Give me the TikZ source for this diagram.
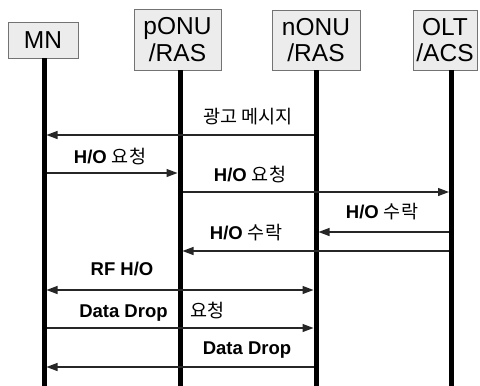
\documentclass[tikz,border=0pt]{standalone}
\usepackage{fontspec}
\setmainfont{Liberation Sans}
\newfontfamily\kr{Noto Sans CJK KR}
\usetikzlibrary{arrows.meta}

\tikzset{
  ent/.style={draw=gray!90!black, fill=gray!15, line width=0.8pt, inner sep=0pt,
    align=center, font=\fontsize{24.5}{26.7}\selectfont},
  life/.style={line width=5pt},
  msg/.style={line width=1.2pt, draw=black!85, -{Triangle[length=11pt,width=8pt]},
    shorten >=2.5pt, shorten <=2.5pt},
  dmsg/.style={msg, {Triangle[length=11pt,width=8pt]}-{Triangle[length=11pt,width=8pt]}},
  lbl/.style={font=\fontsize{18.5}{20}\selectfont\bfseries, inner sep=0pt}
}

\begin{document}
\begin{tikzpicture}[x=1pt,y=-1pt]
  \useasboundingbox (0,0) rectangle (480,386);
  % entities
  \node[ent, minimum width=70pt, minimum height=36pt] (mn) at (43,40) {MN};
  \node[ent, minimum width=87pt, minimum height=61pt] (ponu) at (177.5,39.5) {pONU\\/RAS};
  \node[ent, minimum width=88pt, minimum height=60pt] (nonu) at (316,40) {nONU\\/RAS};
  \node[ent, minimum width=64pt, minimum height=60pt] (olt) at (445,40) {OLT\\/ACS};
  % lifelines
  \coordinate (mnb) at (44,386);
  \coordinate (ponub) at (180,386);
  \coordinate (nonub) at (316,386);
  \coordinate (oltb) at (451.5,386);
  \draw[life] (mnb |- mn.south) -- (mnb);
  \draw[life] (ponub |- ponu.south) -- (ponub);
  \draw[life] (nonub |- nonu.south) -- (nonub);
  \draw[life] (oltb |- olt.south) -- (oltb);
  % messages
  \draw[msg] (nonub |- 0,135) -- (mnb |- 0,135);
  \draw[msg] (mnb |- 0,173) -- (ponub |- 0,173);
  \draw[msg] (ponub |- 0,192) -- (oltb |- 0,192);
  \draw[msg] (oltb |- 0,232) -- (nonub |- 0,232);
  \draw[msg] (oltb |- 0,251) -- (ponub |- 0,251);
  \draw[dmsg] (mnb |- 0,290) -- (nonub |- 0,290);
  \draw[msg] (mnb |- 0,328) -- (nonub |- 0,328);
  \draw[msg] (nonub |- 0,367) -- (mnb |- 0,367);
  % labels
  \node[lbl] (l1) at (248,117) {\kr\mdseries 광고 메시지};
  \node[lbl] (l2) at (110,157) {H/O {\kr\mdseries 요청}};
  \node[lbl] (l3) at (250,175) {H/O {\kr\mdseries 요청}};
  \node[lbl] (l4) at (382,212) {H/O {\kr\mdseries 수락}};
  \node[lbl] (l5) at (246,233) {H/O {\kr\mdseries 수락}};
  \node[lbl] (l6) at (122,269) {RF H/O};
  \node[lbl] (l7) at (152,312) {Data Drop\hspace{23pt}{\kr\mdseries 요청}};
  \node[lbl] (l8) at (247,350) {Data Drop};
\end{tikzpicture}
\end{document}
